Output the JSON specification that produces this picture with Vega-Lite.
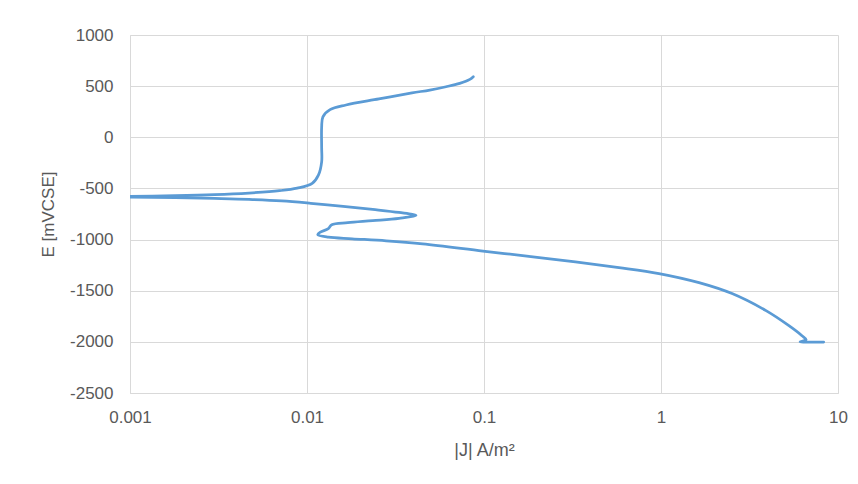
{
  "$schema": "https://vega.github.io/schema/vega-lite/v6.json",
  "width": 708,
  "height": 358,
  "autosize": {"type": "none"},
  "padding": {"left": 130, "top": 35, "right": 20, "bottom": 91},
  "background": "white",
  "config": {
    "view": {"stroke": null},
    "font": "Liberation Sans",
    "axis": {
      "gridColor": "#d9d9d9",
      "gridWidth": 1,
      "domainColor": "#d9d9d9",
      "ticks": false,
      "labelColor": "#595959",
      "titleColor": "#595959",
      "labelFontSize": 17,
      "titleFontSize": 17,
      "titleFontWeight": "normal",
      "labelFont": "Liberation Sans",
      "titleFont": "Liberation Sans"
    }
  },
  "data": {
    "values": [
      {"i": 1, "J": 0.087, "E": 592},
      {"i": 2, "J": 0.0832, "E": 566},
      {"i": 3, "J": 0.0729, "E": 527},
      {"i": 4, "J": 0.061, "E": 494},
      {"i": 5, "J": 0.0494, "E": 462},
      {"i": 6, "J": 0.0392, "E": 434},
      {"i": 7, "J": 0.0255, "E": 375},
      {"i": 8, "J": 0.0166, "E": 316},
      {"i": 9, "J": 0.0135, "E": 270},
      {"i": 10, "J": 0.0123, "E": 200},
      {"i": 11, "J": 0.0121, "E": 100},
      {"i": 12, "J": 0.0121, "E": -100},
      {"i": 13, "J": 0.0121, "E": -240},
      {"i": 14, "J": 0.0116, "E": -370},
      {"i": 15, "J": 0.0107, "E": -450},
      {"i": 16, "J": 0.0088, "E": -497},
      {"i": 17, "J": 0.007, "E": -522},
      {"i": 18, "J": 0.0047, "E": -545},
      {"i": 19, "J": 0.003, "E": -561},
      {"i": 20, "J": 0.0018, "E": -571},
      {"i": 21, "J": 0.001, "E": -577},
      {"i": 22, "J": 0.0006, "E": -580},
      {"i": 23, "J": 0.001, "E": -584},
      {"i": 24, "J": 0.0018, "E": -590},
      {"i": 25, "J": 0.003, "E": -598},
      {"i": 26, "J": 0.0047, "E": -607},
      {"i": 27, "J": 0.0072, "E": -622},
      {"i": 28, "J": 0.0105, "E": -645},
      {"i": 29, "J": 0.016, "E": -675},
      {"i": 30, "J": 0.0235, "E": -705},
      {"i": 31, "J": 0.0331, "E": -735},
      {"i": 32, "J": 0.0413, "E": -764},
      {"i": 33, "J": 0.0331, "E": -792},
      {"i": 34, "J": 0.0235, "E": -815},
      {"i": 35, "J": 0.017, "E": -835},
      {"i": 36, "J": 0.0138, "E": -855},
      {"i": 37, "J": 0.0132, "E": -893},
      {"i": 38, "J": 0.0119, "E": -928},
      {"i": 39, "J": 0.0115, "E": -952},
      {"i": 40, "J": 0.0132, "E": -977},
      {"i": 41, "J": 0.018, "E": -992},
      {"i": 42, "J": 0.028, "E": -1012},
      {"i": 43, "J": 0.045, "E": -1042},
      {"i": 44, "J": 0.0986, "E": -1112},
      {"i": 45, "J": 0.205, "E": -1176},
      {"i": 46, "J": 0.579, "E": -1274},
      {"i": 47, "J": 0.974, "E": -1332},
      {"i": 48, "J": 1.64, "E": -1421},
      {"i": 49, "J": 2.52, "E": -1528},
      {"i": 50, "J": 3.92, "E": -1695},
      {"i": 51, "J": 5.28, "E": -1842},
      {"i": 52, "J": 6.26, "E": -1940},
      {"i": 53, "J": 6.6, "E": -1978},
      {"i": 54, "J": 6.1, "E": -2000},
      {"i": 55, "J": 6.6, "E": -2002},
      {"i": 56, "J": 8.3, "E": -2002}
    ]
  },
  "mark": {"type": "line", "color": "#5B9BD5", "strokeWidth": 2.75, "clip": true, "interpolate": "catmull-rom", "strokeCap": "round"},
  "encoding": {
    "x": {
      "field": "J",
      "type": "quantitative",
      "scale": {"type": "log", "domain": [0.001, 10], "nice": false},
      "axis": {
        "values": [0.001, 0.01, 0.1, 1, 10],
        "format": "~g",
        "title": "|J| A/m²",
        "titleFontSize": 18,
        "labelPadding": 16,
        "titlePadding": 16,
        "labelFlush": false,
        "labelOverlap": false
      }
    },
    "y": {
      "field": "E",
      "type": "quantitative",
      "scale": {"domain": [-2500, 1000], "nice": false},
      "axis": {
        "values": [-2500, -2000, -1500, -1000, -500, 0, 500, 1000],
        "labelExpr": "'' + datum.value",
        "title": "E [mVCSE]",
        "labelPadding": 17,
        "titlePadding": 12,
        "labelOverlap": false
      }
    },
    "order": {"field": "i", "type": "quantitative"}
  }
}
